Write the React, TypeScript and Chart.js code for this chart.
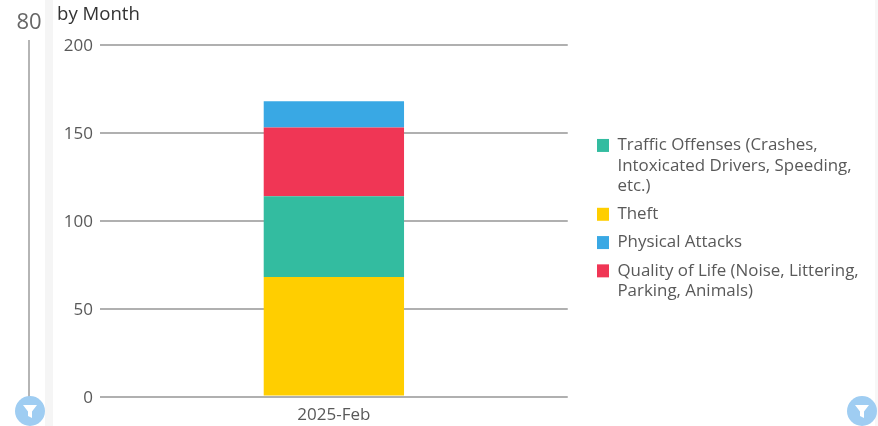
import React, { useEffect, useRef } from "react";
import { Chart, registerables } from "chart.js";

Chart.register(...registerables);

const categories = ["2025-Feb"];
const theft = [68];
const traffic = [46];
const quality = [39];
const physical = [15];
const legendOrder = [
  { text: ["Traffic Offenses (Crashes,", "Intoxicated Drivers, Speeding,", "etc.)"], color: "#33bca0" },
  { text: ["Theft"], color: "#ffce00" },
  { text: ["Physical Attacks"], color: "#39a8e4" },
  { text: ["Quality of Life (Noise, Littering,", "Parking, Animals)"], color: "#f03655" },
];
const FONT = "'Open Sans'";
const TEXT = "#595959";

const placeLegend = {
  id: "placeLegend",
  afterLayout(chart: any) {
    const l = chart.legend;
    const h = l.bottom - l.top;
    l.left = 589;
    l.right = 878;
    l.top = 129;
    l.bottom = 129 + h;
  },
};

const Funnel = ({ cx }: { cx: number }) => (
  <svg
    width={30}
    height={30}
    viewBox="0 0 30 30"
    style={{ position: "absolute", left: cx - 15, top: 396 }}
  >
    <circle cx={15} cy={15} r={15} fill="#9fcdf2" />
    <path d="M8 9 H22 L17 15.5 V22 L13 20 V15.5 Z" fill="#fff" />
  </svg>
);

export default function App() {
  const ref = useRef<HTMLCanvasElement>(null);
  useEffect(() => {
    const chart = new Chart(ref.current!, {
      type: "bar",
      plugins: [placeLegend],
      data: {
        labels: categories,
        datasets: [
          { label: "Theft", data: theft, backgroundColor: "#ffce00" },
          { label: "Traffic Offenses", data: traffic, backgroundColor: "#33bca0" },
          { label: "Quality of Life", data: quality, backgroundColor: "#f03655" },
          { label: "Physical Attacks", data: physical, backgroundColor: "#39a8e4" },
        ],
      },
      options: {
        responsive: false,
        animation: false,
        layout: { padding: { top: 45, right: 121, bottom: 0, left: 0 } },
        datasets: { bar: { barPercentage: 0.3, categoryPercentage: 1 } },
        scales: {
          x: {
            stacked: true,
            afterFit: (s: any) => { s.height = 29.5; },
            grid: { display: false },
            border: { display: false },
            ticks: { color: TEXT, padding: 0, font: { family: FONT, size: 17 } },
          },
          y: {
            stacked: true,
            min: 0,
            max: 200,
            afterFit: (s: any) => { s.width = 100; },
            grid: { color: "#b0b0b0", lineWidth: 2, drawTicks: false },
            border: { display: false },
            ticks: {
              stepSize: 50,
              color: TEXT,
              padding: 7,
              font: { family: FONT, size: 17, lineHeight: "3px" },
              callback: (v: any) => ["", String(v)],
            },
          },
        },
        plugins: {
          title: { display: false },
          tooltip: { enabled: false },
          legend: {
            position: "right",
            align: "start",
            labels: {
              boxWidth: 12,
              boxHeight: 13,
              padding: 8,
              color: TEXT,
              font: { family: FONT, size: 16.9, lineHeight: 1.2 },
              generateLabels: () =>
                legendOrder.map((it) => ({
                  text: it.text as any,
                  fillStyle: it.color,
                  strokeStyle: it.color,
                  fontColor: TEXT,
                  lineWidth: 0,
                  hidden: false,
                })),
            },
          },
        },
      },
    });
    return () => chart.destroy();
  }, []);

  return (
    <div style={{ position: "fixed", left: 0, top: 0, width: 878, height: 426, background: "#fff", overflow: "hidden", fontFamily: FONT }}>
      <canvas ref={ref} width={878} height={426} style={{ position: "absolute", left: 0, top: 0, display: "block" }} />
      <div style={{ position: "absolute", left: 45, top: 0, width: 8, height: 426, background: "#f5f5f5" }} />
      <div style={{ position: "absolute", left: 875, top: 0, width: 3, height: 426, background: "#f7f7f7" }} />
      <div style={{ position: "absolute", left: 8, width: 42, top: 6, textAlign: "center", fontSize: 22, lineHeight: "28px", color: "#666" }}>80</div>
      <div style={{ position: "absolute", left: 57, top: 1, fontSize: 18.6, lineHeight: "24px", color: "#333" }}>by Month</div>
      <div style={{ position: "absolute", left: 28, top: 40, width: 2, height: 358, background: "#b5b5b5" }} />
      <Funnel cx={30} />
      <Funnel cx={862} />
    </div>
  );
}
